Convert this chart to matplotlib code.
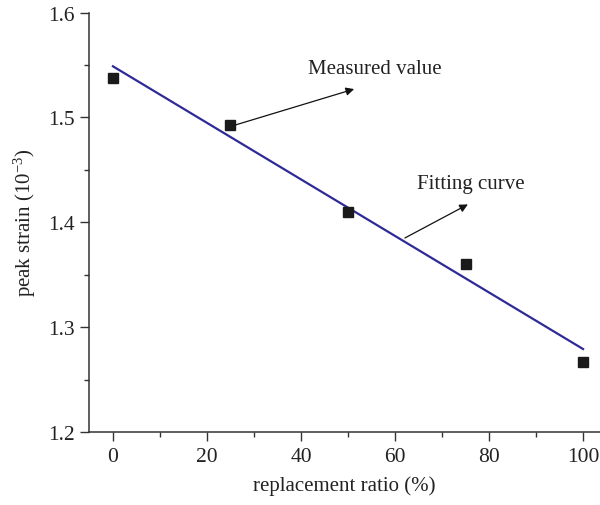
import matplotlib
matplotlib.use("Agg")
import matplotlib.pyplot as plt
from matplotlib.ticker import MultipleLocator

plt.rcParams['font.family'] = ['Liberation Serif', 'DejaVu Serif']
plt.rcParams['mathtext.default'] = 'regular'

ratio = [0, 25, 50, 75, 100]
peak_strain = [1.538, 1.493, 1.410, 1.360, 1.267]
fit_x = [0, 100]
fit_y = [1.5487, 1.2791]

fig = plt.figure(figsize=(6.0, 5.06), dpi=100)
ax = fig.add_axes([0.1483, 0.1443, 0.8517, 0.8290])

ax.plot(fit_x, fit_y, color='#2e2a96', lw=1.6, zorder=2)
ax.plot(ratio, peak_strain, 's', color='#1a1a1a', ms=7.2, zorder=3)

ax.set_xlim(-5.1, 103.6)
ax.set_ylim(1.2, 1.6)
ax.xaxis.set_major_locator(MultipleLocator(20))
ax.xaxis.set_minor_locator(MultipleLocator(10))
ax.yaxis.set_major_locator(MultipleLocator(0.1))
ax.yaxis.set_minor_locator(MultipleLocator(0.05))
ax.yaxis.set_major_formatter(matplotlib.ticker.FormatStrFormatter('%.1f'))

for s in ['top', 'right']:
    ax.spines[s].set_visible(False)
for s in ['left', 'bottom']:
    ax.spines[s].set_color('#333333')
    ax.spines[s].set_linewidth(1.1)

ax.tick_params(which='major', direction='out', length=6.5, width=1.0, color='#333333',
               labelsize=15.5, labelcolor='#222222', pad=4)
ax.tick_params(which='minor', direction='out', length=3.5, width=1.0, color='#333333')

ax.set_xlabel('replacement ratio (%)', fontsize=15, color='#222222', labelpad=7)
ax.set_ylabel('peak strain (10$^{-3}$)', fontsize=15, color='#222222', labelpad=7)

ax.annotate('', xy=(51.3, 1.527), xytext=(26.0, 1.4927),
            arrowprops=dict(arrowstyle='-|>', color='#111111', lw=0.9, mutation_scale=12,
                            shrinkA=0, shrinkB=0))
ax.text(41.5, 1.547, 'Measured value', fontsize=15, color='#222222', va='center', ha='left')

ax.annotate('', xy=(75.5, 1.417), xytext=(62.1, 1.385),
            arrowprops=dict(arrowstyle='-|>', color='#111111', lw=0.9, mutation_scale=12,
                            shrinkA=0, shrinkB=0))
ax.text(64.7, 1.4365, 'Fitting curve', fontsize=15, color='#222222', va='center', ha='left')

fig.savefig('out.png', dpi=100)
